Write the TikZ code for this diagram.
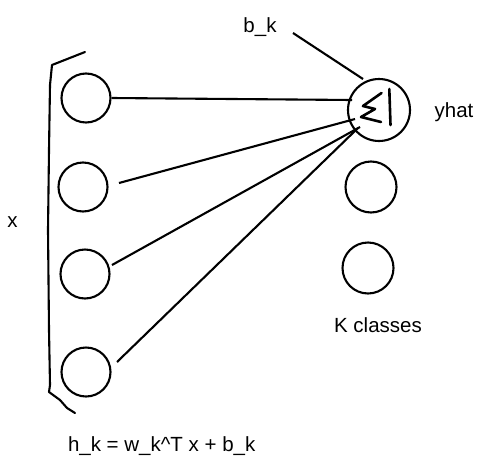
\documentclass[tikz,border=0pt]{standalone}
\usepackage{fontspec}
\setmainfont{Liberation Sans}
\begin{document}
\begin{tikzpicture}[x=1pt,y=-1pt,
  neuron/.style={draw,circle,line width=2.1pt,inner sep=0pt,minimum size=49pt},
  wire/.style={line width=2.1pt},
  lbl/.style={inner sep=0pt,anchor=base,font=\fontsize{20.5}{24}\selectfont}]
\useasboundingbox (0,0) rectangle (486,471);
% input neurons
\node[neuron] (i1) at (86,98) {};
\node[neuron] (i2) at (83,187) {};
\node[neuron] (i3) at (85,274) {};
\node[neuron] (i4) at (86,372) {};
% output neurons
\node[neuron,minimum size=62pt] (o1) at (379,110) {};
\node[neuron,minimum size=51pt] (o2) at (371,187) {};
\node[neuron,minimum size=51pt] (o3) at (368,268) {};
% bracket
\draw[wire,line join=round,line cap=round] (85,52) -- (52,65) -- (50,85) -- (49,150) -- (48,230) -- (49,330) -- (50,385) -- (49,392) -- (60,400) -- (67,408) -- (75,413);
% sigma-like symbol
\draw[wire,line width=2.6pt,line join=round,line cap=round] (381.5,93) -- (363,106) -- (375,109) -- (361,117) -- (381,122);
\draw[wire,line width=2.6pt,line cap=round] (389.3,89) -- (390.5,125);
% connector ends
\coordinate (e1) at (352,100);
\coordinate (e2) at (355,119);
\coordinate (e3) at (360,127);
\coordinate (e4) at (358,128);
\coordinate (s2) at (119,183);
\coordinate (s3) at (112,265);
\coordinate (s4) at (117,362);
\coordinate (bk) at (293,33);
\coordinate (bke) at (363,79);
\draw[wire] (i1.east) -- (e1);
\draw[wire] (s2) -- (e2);
\draw[wire] (s3) -- (e3);
\draw[wire] (s4) -- (e4);
\draw[wire] (bk) -- (bke);
% labels
\node[lbl] (lbk) at (260,32) {b\_k};
\node[lbl] (lyhat) at (454,117) {yhat};
\node[lbl] (lx) at (12.5,227) {x};
\node[lbl] (lk) at (378,332) {K classes};
\node[lbl] (lh) at (161.7,451.5) {h\_k = w\_k\^{}T x + b\_k};
\end{tikzpicture}
\end{document}
